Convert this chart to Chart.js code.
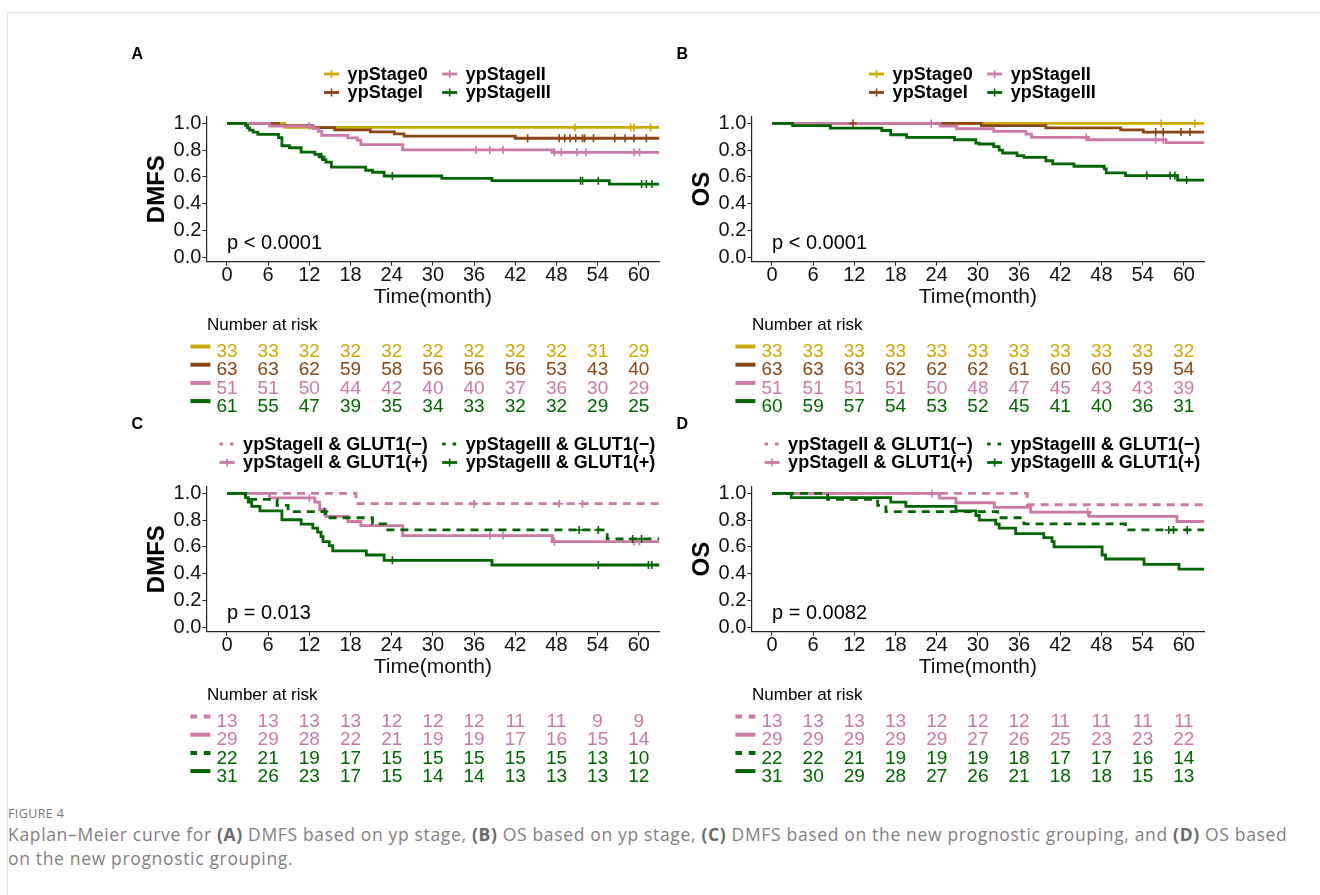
<!DOCTYPE html>
<html>
<head>
<meta charset="utf-8">
<script src="https://cdn.jsdelivr.net/npm/chart.js@4.4.1/dist/chart.umd.min.js"></script>
<style>
  body { margin: 0; background: #fff; width: 1320px; height: 895px; overflow: hidden; position: relative; font-family: 'Liberation Sans', Arial, sans-serif; }
  .frame { position: absolute; left: 7px; top: 12px; right: 0; bottom: 0; border-top: 1px solid #e2e2e2; border-left: 1px solid #e2e2e2; }
  .panel { position: absolute; width: 545px; height: 378px; }
  .figlabel { position: absolute; left: 8px; top: 805px; font: 12.5px 'Open Sans', sans-serif; color: #777; letter-spacing: 0.4px; }
  .caption { position: absolute; left: 8px; top: 822px; font: 17.5px/24px 'Open Sans', sans-serif; color: #7f7f7f; white-space: nowrap; letter-spacing: 0.66px; }
  .caption b { color: #6a6a6a; }
</style>
</head>
<body>
<div class="frame"></div>
<div class="panel" style="left:120px;top:38px"><canvas id="panelA"></canvas></div>
<div class="panel" style="left:665.4px;top:38px"><canvas id="panelB"></canvas></div>
<div class="panel" style="left:120px;top:408px"><canvas id="panelC"></canvas></div>
<div class="panel" style="left:665.4px;top:408px"><canvas id="panelD"></canvas></div>
<div class="figlabel">FIGURE 4</div>
<div class="caption">Kaplan–Meier curve for <b>(A)</b> DMFS based on yp stage, <b>(B)</b> OS based on yp stage, <b>(C)</b> DMFS based on the new prognostic grouping, and <b>(D)</b> OS based<br>on the new prognostic grouping.</div>

<script>
// ---- axis ticks ----
const timeTicks = [0, 6, 12, 18, 24, 30, 36, 42, 48, 54, 60];
const survTicks = [0, 0.2, 0.4, 0.6, 0.8, 1.0];

// ---- groups ----
const stageGroups = ['ypStage0', 'ypStageI', 'ypStageII', 'ypStageIII'];
const stageColors = ['#CDAA00', '#8B4513', '#CC79A7', '#006600'];
const stageDashed = [false, false, false, false];

const glutGroups = ['ypStageII & GLUT1(−)', 'ypStageII & GLUT1(+)', 'ypStageIII & GLUT1(−)', 'ypStageIII & GLUT1(+)'];
const glutColors = ['#CC79A7', '#CC79A7', '#006600', '#006600'];
const glutDashed = [true, false, true, false];

// ---- A: DMFS by yp stage (time, survival) ----
const dmfsStage0 = [[0, 1], [8.4, 0.97], [63, 0.97]];
const dmfsStageI = [[0, 1], [7.5, 0.984], [12.5, 0.968], [15.7, 0.952], [20.9, 0.937], [24.4, 0.921], [25.8, 0.905], [42, 0.889], [63, 0.889]];
const dmfsStageII = [[0, 1], [6.2, 0.98], [12.6, 0.961], [13.3, 0.941], [13.8, 0.91], [17.6, 0.892], [19, 0.875], [19.5, 0.842], [25.6, 0.802], [47.4, 0.784], [63, 0.784]];
const dmfsStageIII = [[0, 1], [2.7, 0.985], [3.0, 0.967], [3.3, 0.95], [3.8, 0.935], [4.5, 0.918], [7.5, 0.893], [8.0, 0.833], [9.1, 0.818], [10.8, 0.785], [12.8, 0.768], [13.5, 0.75], [14.0, 0.73], [14.4, 0.71], [15.2, 0.673], [20.2, 0.65], [21.2, 0.635], [22.9, 0.607], [31.3, 0.59], [38.6, 0.572], [55.7, 0.547], [63, 0.547]];
const dmfsStage0Cens = [[50.7, 0.97], [58.8, 0.97], [59.3, 0.97], [61.7, 0.97]];
const dmfsStageICens = [[43.8, 0.889], [48.4, 0.889], [49.2, 0.889], [50, 0.889], [50.8, 0.889], [51.8, 0.889], [52.1, 0.889], [53.4, 0.889], [56.5, 0.889], [58, 0.889], [59.3, 0.889], [61.1, 0.889]];
const dmfsStageIICens = [[12.0, 0.98], [36.3, 0.802], [38.3, 0.802], [40.2, 0.802], [47.7, 0.784], [48.7, 0.784], [51, 0.784], [52.3, 0.784], [59.3, 0.784], [60.1, 0.784]];
const dmfsStageIIICens = [[13.8, 0.75], [24.1, 0.607], [51.5, 0.572], [51.8, 0.572], [54.1, 0.572], [60.4, 0.547], [61.1, 0.547], [61.9, 0.547]];
const dmfsStageRisk = [
  [33, 33, 32, 32, 32, 32, 32, 32, 32, 31, 29],
  [63, 63, 62, 59, 58, 56, 56, 56, 53, 43, 40],
  [51, 51, 50, 44, 42, 40, 40, 37, 36, 30, 29],
  [61, 55, 47, 39, 35, 34, 33, 32, 32, 29, 25]
];

// ---- B: OS by yp stage ----
const osStage0 = [[0, 1], [63, 1]];
const osStageI = [[0, 1], [30.5, 0.984], [39.9, 0.967], [50.8, 0.951], [54.1, 0.935], [63, 0.935]];
const osStageII = [[0, 1], [24.5, 0.98], [26.9, 0.96], [32.3, 0.94], [37.0, 0.92], [37.8, 0.895], [46.1, 0.878], [57.4, 0.856], [63, 0.856]];
const osStageIII = [[0, 1], [3.0, 0.983], [8.5, 0.965], [16.0, 0.947], [17.3, 0.915], [19.6, 0.895], [26.6, 0.878], [29.7, 0.853], [30.2, 0.846], [32.3, 0.826], [33.1, 0.80], [33.6, 0.779], [35.7, 0.759], [36.7, 0.746], [39.9, 0.721], [40.9, 0.697], [44.0, 0.68], [48.4, 0.66], [48.7, 0.63], [51.5, 0.61], [59.1, 0.577], [63, 0.577]];
const osStage0Cens = [[56.7, 1], [61.6, 1]];
const osStageICens = [[11.8, 1], [55.9, 0.935], [57.0, 0.935], [59.6, 0.935], [60.9, 0.935]];
const osStageIICens = [[23.2, 1], [45.8, 0.895], [55.9, 0.878], [57.0, 0.878]];
const osStageIIICens = [[54.6, 0.61], [58.0, 0.61], [58.7, 0.61], [60.4, 0.577]];
const osStageRisk = [
  [33, 33, 33, 33, 33, 33, 33, 33, 33, 33, 32],
  [63, 63, 63, 62, 62, 62, 61, 60, 60, 59, 54],
  [51, 51, 51, 51, 50, 48, 47, 45, 43, 43, 39],
  [60, 59, 57, 54, 53, 52, 45, 41, 40, 36, 31]
];

// ---- C: DMFS by new grouping ----
const dmfsIINeg = [[0, 1], [18.8, 0.923], [63, 0.923]];
const dmfsIIPos = [[0, 1], [6.2, 0.966], [12.8, 0.935], [13.5, 0.878], [14.4, 0.828], [17.6, 0.79], [19.5, 0.76], [25.6, 0.685], [47.4, 0.64], [63, 0.64]];
const dmfsIIINeg = [[0, 1], [2.7, 0.955], [7.3, 0.91], [8.9, 0.864], [14.4, 0.818], [21.2, 0.773], [23.1, 0.727], [55.4, 0.66], [63, 0.66]];
const dmfsIIIPos = [[0, 1], [2.7, 0.968], [3.1, 0.935], [3.6, 0.903], [4.8, 0.87], [8.0, 0.803], [10.8, 0.77], [12.5, 0.74], [13.2, 0.71], [13.7, 0.677], [14.0, 0.64], [14.9, 0.61], [15.4, 0.57], [20.3, 0.54], [22.9, 0.50], [38.6, 0.465], [63, 0.465]];
const dmfsIINegCens = [[36, 0.923], [48.4, 0.923], [51.8, 0.923]];
const dmfsIIPosCens = [[12.0, 0.966], [38.3, 0.685], [40.2, 0.685], [47.7, 0.64], [59.3, 0.64], [60.1, 0.64]];
const dmfsIIINegCens = [[14.2, 0.864], [51.3, 0.727], [54.1, 0.727], [59.1, 0.66], [60.4, 0.66]];
const dmfsIIIPosCens = [[24.1, 0.50], [54.1, 0.465], [61.4, 0.465], [61.9, 0.465]];
const dmfsGlutRisk = [
  [13, 13, 13, 13, 12, 12, 12, 11, 11, 9, 9],
  [29, 29, 28, 22, 21, 19, 19, 17, 16, 15, 14],
  [22, 21, 19, 17, 15, 15, 15, 15, 15, 13, 10],
  [31, 26, 23, 17, 15, 14, 14, 13, 13, 13, 12]
];

// ---- D: OS by new grouping ----
const osIINeg = [[0, 1], [37.2, 0.915], [63, 0.915]];
const osIIPos = [[0, 1], [24.4, 0.965], [26.8, 0.93], [32.4, 0.895], [37.7, 0.86], [46.2, 0.828], [59.0, 0.79], [63, 0.79]];
const osIIINeg = [[0, 1], [8.1, 0.955], [15.4, 0.91], [16.6, 0.864], [32.9, 0.818], [36.7, 0.773], [51.5, 0.727], [63, 0.727]];
const osIIIPos = [[0, 1], [2.8, 0.968], [17.3, 0.935], [19.5, 0.903], [26.8, 0.87], [29.7, 0.835], [30.2, 0.80], [32.6, 0.77], [33.1, 0.74], [35.5, 0.70], [39.6, 0.67], [40.8, 0.64], [41.1, 0.60], [48.1, 0.54], [48.6, 0.51], [54.2, 0.47], [59.3, 0.435], [63, 0.435]];
const osIINegCens = [[23.3, 1]];
const osIIPosCens = [[46.0, 0.86]];
const osIIINegCens = [[57.8, 0.727], [58.5, 0.727], [60.5, 0.727]];
const osIIIPosCens = [];
const osGlutRisk = [
  [13, 13, 13, 13, 12, 12, 12, 11, 11, 11, 11],
  [29, 29, 29, 29, 29, 27, 26, 25, 23, 23, 22],
  [22, 22, 21, 19, 19, 19, 18, 17, 17, 16, 14],
  [31, 30, 29, 28, 27, 26, 21, 18, 18, 15, 13]
];

const FONT = "'Liberation Sans', Arial, sans-serif";
Chart.defaults.color = '#000';
Chart.defaults.font.family = FONT;

// letter, legend, p value and number-at-risk table
const kmDecor = {
  id: 'kmDecor',
  afterDraw(chart, args, opts) {
    const { ctx, chartArea: area, scales: { x, y } } = chart;
    ctx.save();
    ctx.fillStyle = '#000';
    ctx.textBaseline = 'middle';
    ctx.textAlign = 'left';

    ctx.font = 'bold 16px ' + FONT;
    ctx.fillText(opts.letter, area.left - 75, 16.5);

    ctx.font = '20px ' + FONT;
    ctx.fillText(opts.pText, x.getPixelForValue(0), y.getPixelForValue(0.1));

    // legend, two columns
    ctx.font = 'bold 18px ' + FONT;
    const w1 = Math.max(ctx.measureText(opts.groups[0]).width, ctx.measureText(opts.groups[1]).width);
    const w2 = Math.max(ctx.measureText(opts.groups[2]).width, ctx.measureText(opts.groups[3]).width);
    const total = 23.6 + w1 + 14.5 + 23.6 + w2;
    const x1 = (area.left + area.right) / 2 + 4.5 - total / 2;
    const x2 = x1 + 23.6 + w1 + 14.5;
    const rows = [36, 54.5];
    opts.groups.forEach((g, i) => {
      const lx = i < 2 ? x1 : x2;
      const ly = rows[i % 2];
      ctx.strokeStyle = opts.colors[i];
      ctx.lineWidth = 2.8;
      ctx.setLineDash(opts.dashed[i] ? [3.5, 7] : []);
      ctx.beginPath();
      ctx.moveTo(lx, ly);
      ctx.lineTo(lx + 15, ly);
      ctx.stroke();
      ctx.setLineDash([]);
      if (!opts.dashed[i]) {
        ctx.lineWidth = 1.6;
        ctx.beginPath();
        ctx.moveTo(lx + 7.5, ly - 4);
        ctx.lineTo(lx + 7.5, ly + 4);
        ctx.stroke();
      }
      ctx.fillStyle = '#000';
      ctx.fillText(g, lx + 23.6, ly + 1);
    });

    // number at risk
    ctx.font = '17px ' + FONT;
    ctx.fillText('Number at risk', area.left + 0.6, 287);
    ctx.font = '19px ' + FONT;
    ctx.textAlign = 'center';
    opts.risk.forEach((row, i) => {
      const ry = 314 + i * 18.2;
      ctx.strokeStyle = opts.colors[i];
      ctx.lineWidth = 4;
      ctx.setLineDash(opts.dashed[i] ? [6.7, 6.7] : []);
      ctx.beginPath();
      ctx.moveTo(area.left - 16, ry - 5.5);
      ctx.lineTo(area.left + 4, ry - 5.5);
      ctx.stroke();
      ctx.setLineDash([]);
      ctx.fillStyle = opts.colors[i];
      row.forEach((n, j) => {
        ctx.fillText(String(n), x.getPixelForValue(timeTicks[j]), ry);
      });
    });
    ctx.restore();
  }
};

function makePanel(id, cfg) {
  const datasets = [];
  cfg.curves.forEach((pts, i) => {
    datasets.push({
      data: pts.map(([t, s]) => ({ x: t, y: s })),
      stepped: 'before',
      borderColor: cfg.colors[i],
      borderWidth: 2.8,
      borderDash: cfg.dashed[i] ? [8, 6] : [],
      pointRadius: 0,
      fill: false,
      order: 10 - i
    });
  });
  cfg.censors.forEach((pts, i) => {
    datasets.push({
      data: pts.map(([t, s]) => ({ x: t, y: s })),
      showLine: false,
      pointStyle: 'cross',
      pointRadius: 4,
      pointBorderWidth: 1.6,
      pointBorderColor: cfg.colors[i],
      borderColor: cfg.colors[i],
      order: 4 - i
    });
  });

  new Chart(document.getElementById(id), {
    type: 'line',
    data: { datasets },
    plugins: [kmDecor],
    options: {
      responsive: true,
      maintainAspectRatio: false,
      animation: false,
      layout: { padding: { left: 0, right: 3.6, top: 78.7, bottom: 106.3 } },
      plugins: {
        legend: { display: false },
        tooltip: { enabled: false },
        kmDecor: cfg
      },
      scales: {
        x: {
          type: 'linear',
          min: -3,
          max: 63,
          afterBuildTicks: s => { s.ticks = timeTicks.map(v => ({ value: v })); },
          afterFit: s => { s.height = 48; },
          ticks: { color: '#111', padding: 0, maxRotation: 0, font: { size: 20, lineHeight: 1 } },
          grid: { drawOnChartArea: false, drawTicks: true, tickLength: 4, color: '#222', lineWidth: 1 },
          border: { display: true, color: '#222', width: 1.2 },
          title: { display: true, text: 'Time(month)', color: '#111', font: { size: 21 }, padding: 0 }
        },
        y: {
          type: 'linear',
          min: -0.033,
          max: 1.05,
          afterBuildTicks: s => { s.ticks = survTicks.map(v => ({ value: v })); },
          afterFit: s => { s.width = 86.4; },
          ticks: { color: '#111', padding: 1, font: { size: 20 }, callback: v => v.toFixed(1) },
          grid: { drawOnChartArea: false, drawTicks: true, tickLength: 4, color: '#222', lineWidth: 1 },
          border: { display: true, color: '#222', width: 1.2 },
          title: { display: true, text: cfg.yTitle, color: '#000', font: { size: 24, weight: 'bold' }, padding: { top: 22.6, bottom: 0 } }
        }
      }
    }
  });
}

makePanel('panelA', {
  letter: 'A', yTitle: 'DMFS', pText: 'p < 0.0001',
  groups: stageGroups, colors: stageColors, dashed: stageDashed,
  curves: [dmfsStage0, dmfsStageI, dmfsStageII, dmfsStageIII],
  censors: [dmfsStage0Cens, dmfsStageICens, dmfsStageIICens, dmfsStageIIICens],
  risk: dmfsStageRisk
});
makePanel('panelB', {
  letter: 'B', yTitle: 'OS', pText: 'p < 0.0001',
  groups: stageGroups, colors: stageColors, dashed: stageDashed,
  curves: [osStage0, osStageI, osStageII, osStageIII],
  censors: [osStage0Cens, osStageICens, osStageIICens, osStageIIICens],
  risk: osStageRisk
});
makePanel('panelC', {
  letter: 'C', yTitle: 'DMFS', pText: 'p = 0.013',
  groups: glutGroups, colors: glutColors, dashed: glutDashed,
  curves: [dmfsIINeg, dmfsIIPos, dmfsIIINeg, dmfsIIIPos],
  censors: [dmfsIINegCens, dmfsIIPosCens, dmfsIIINegCens, dmfsIIIPosCens],
  risk: dmfsGlutRisk
});
makePanel('panelD', {
  letter: 'D', yTitle: 'OS', pText: 'p = 0.0082',
  groups: glutGroups, colors: glutColors, dashed: glutDashed,
  curves: [osIINeg, osIIPos, osIIINeg, osIIIPos],
  censors: [osIINegCens, osIIPosCens, osIIINegCens, osIIIPosCens],
  risk: osGlutRisk
});
</script>
</body>
</html>
